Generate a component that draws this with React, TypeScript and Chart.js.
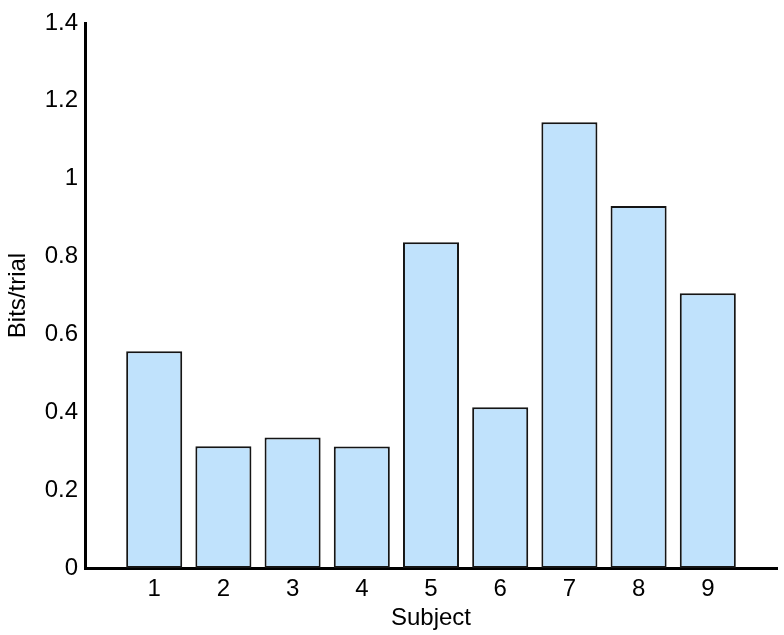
import React, { useEffect, useRef } from "react";
import { Chart, registerables } from "chart.js";

Chart.register(...registerables);

const subjects = [1, 2, 3, 4, 5, 6, 7, 8, 9];
const subjectLabels = ["1", "2", "3", "4", "5", "6", "7", "8", "9"];
const bitsPerTrial = [0.557, 0.313, 0.335, 0.312, 0.837, 0.413, 1.145, 0.93, 0.706];
const yTickValues = [0, 0.2, 0.4, 0.6, 0.8, 1, 1.2, 1.4];
const yTickLabels = ["0", "0.2", "0.4", "0.6", "0.8", "1", "1.2", "1.4"];

const FONT = "'Liberation Sans', Arial, Helvetica, sans-serif";

export default function App() {
  const ref = useRef<HTMLCanvasElement | null>(null);

  useEffect(() => {
    if (!ref.current) return;
    const chart = new Chart(ref.current, {
      type: "bar",
      data: {
        datasets: [
          {
            data: subjects.map((s, i) => ({ x: s, y: bitsPerTrial[i] })),
            backgroundColor: "rgb(192,226,252)",
            borderColor: "#151515",
            borderWidth: 2,
            borderSkipped: false,
            barPercentage: 0.81,
            categoryPercentage: 1,
          },
        ],
      },
      options: {
        animation: false,
        responsive: false,
        devicePixelRatio: 1,
        layout: { padding: { top: 23, right: 7, left: 0, bottom: 0 } },
        plugins: { legend: { display: false }, tooltip: { enabled: false } },
        scales: {
          x: {
            type: "linear",
            min: 0,
            max: 10,
            offset: false,
            grid: { display: false, drawTicks: false, offset: false },
            border: { display: true, color: "#000", width: 3 },
            afterBuildTicks: (scale: any) => {
              scale.ticks = subjects.map((v) => ({ value: v }));
            },
            afterFit: (scale: any) => {
              scale.height = 67;
            },
            ticks: {
              padding: 7,
              color: "#000",
              font: { family: FONT, size: 24 },
              maxRotation: 0,
              autoSkip: false,
              callback: (v: any) => {
                const i = subjects.indexOf(Number(v));
                return i >= 0 ? subjectLabels[i] : "";
              },
            },
            title: {
              display: true,
              text: "Subject",
              color: "#000",
              font: { family: FONT, size: 24 },
              padding: { top: 0, bottom: 2 },
            },
          },
          y: {
            min: 0,
            max: 1.4,
            grid: { display: false, drawTicks: false },
            border: { display: true, color: "#000", width: 3 },
            afterBuildTicks: (scale: any) => {
              scale.ticks = yTickValues.map((v) => ({ value: v }));
            },
            afterFit: (scale: any) => {
              scale.width = 85;
            },
            ticks: {
              padding: 7,
              color: "#000",
              font: { family: FONT, size: 24 },
              autoSkip: false,
              callback: (v: any) => {
                const i = yTickValues.findIndex((t) => Math.abs(t - Number(v)) < 1e-6);
                return i >= 0 ? yTickLabels[i] : "";
              },
            },
            title: {
              display: true,
              text: "Bits/trial",
              color: "#000",
              font: { family: FONT, size: 24 },
              padding: { top: 4, bottom: 0 },
            },
          },
        },
      },
    });
    return () => chart.destroy();
  }, []);

  return (
    <div style={{ position: "fixed", left: 0, top: 0, width: 784, height: 635, background: "#fff" }}>
      <canvas ref={ref} width={784} height={635} style={{ display: "block" }} />
    </div>
  );
}
